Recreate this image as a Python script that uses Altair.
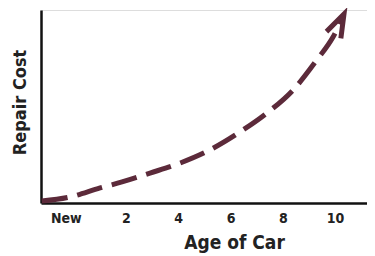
import altair as alt
import pandas as pd

# Curve (age in years, relative repair cost index 0-100)
curve_age = [-1.22, -0.14, 1.01, 1.85, 2.92, 4.07, 5.21, 6.36, 7.39, 8.39, 9.30, 9.92, 10.30]
curve_cost = [1.0, 3.1, 7.8, 10.9, 15.5, 20.7, 27.5, 36.8, 46.6, 58.5, 74.1, 86.0, 96.5]

# Arrow head (two strokes meeting at the tip)
arrow_age = [9.67, 10.34, 10.22]
arrow_cost = [88.8, 97.9, 85.3]

tick_values = [-0.3, 2, 4, 6, 8, 10]
tick_labels = ["New", "2", "4", "6", "8", "10"]

color = "#5c2a3a"
font = "DejaVu Sans Condensed"

curve_df = pd.DataFrame({"age": curve_age, "cost": curve_cost})
arrow_df = pd.DataFrame({"age": arrow_age, "cost": arrow_cost, "o": [0, 1, 2]})

label_expr = " : ".join(
    [f"datum.value == {v} ? '{l}'" for v, l in zip(tick_values, tick_labels)] + ["''"]
)

x_scale = alt.Scale(domain=[-1.25, 11.22], nice=False, zero=False)
y_scale = alt.Scale(domain=[0, 100], nice=False)

x_enc = alt.X(
    "age:Q",
    scale=x_scale,
    axis=alt.Axis(
        values=tick_values,
        labelExpr=label_expr,
        title="Age of Car",
        ticks=False,
        grid=False,
        domainColor="#111111",
        domainWidth=2.5,
        labelFont=font,
        labelFontWeight="bold",
        labelFontSize=14,
        labelColor="#222222",
        labelPadding=8,
        titleFont=font,
        titleFontWeight="bold",
        titleFontSize=19,
        titleColor="#222222",
        titlePadding=8,
        titleX=193,
    ),
)
y_enc = alt.Y(
    "cost:Q",
    scale=y_scale,
    axis=alt.Axis(
        title="Repair Cost",
        labels=False,
        ticks=False,
        grid=False,
        domainColor="#111111",
        domainWidth=2.5,
        titleFont=font,
        titleFontWeight="bold",
        titleFontSize=18,
        titleColor="#222222",
        titlePadding=12,
        titleY=92,
    ),
)

curve = alt.Chart(curve_df).mark_line(
    color=color, strokeWidth=5, strokeDash=[26, 10], interpolate="monotone", strokeCap="butt"
).encode(x=x_enc, y=y_enc)

arrow = alt.Chart(arrow_df).mark_line(
    color=color, strokeWidth=5, strokeCap="butt", strokeJoin="miter"
).encode(x=alt.X("age:Q", scale=x_scale), y=alt.Y("cost:Q", scale=y_scale), order="o:Q")

chart = (
    alt.layer(curve, arrow)
    .properties(
        width=326,
        height=193,
        autosize=alt.AutoSizeParams(type="none"),
        padding={"left": 33, "top": 2, "right": 0, "bottom": 58},
    )
    .configure_view(stroke=None)
    .configure(background="white")
)

chart.save("out.html", embed_options={"renderer": "svg", "actions": False})
